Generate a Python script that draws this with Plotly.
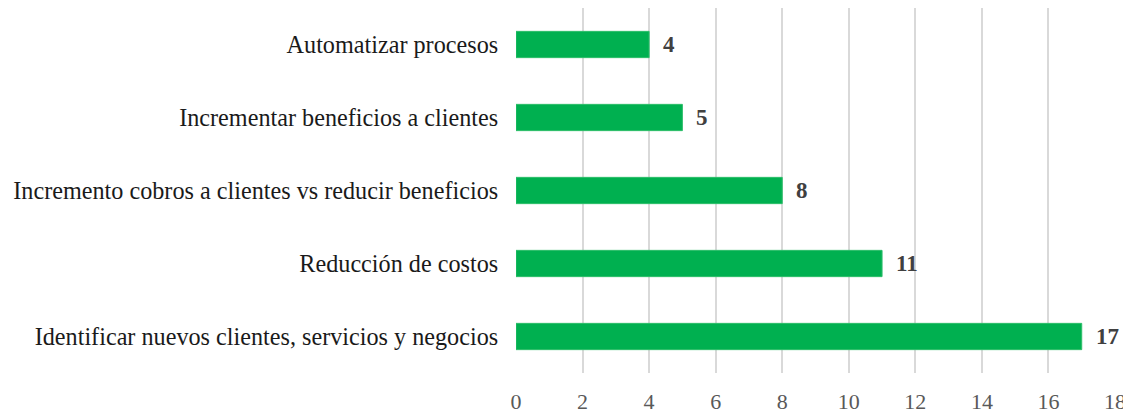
import plotly.graph_objects as go

categories = [
    "Identificar nuevos clientes, servicios y negocios",
    "Reducción de costos",
    "Incremento cobros a clientes vs reducir beneficios",
    "Incrementar beneficios a clientes",
    "Automatizar procesos",
]
values = [17, 11, 8, 5, 4]
tick_vals = [0, 2, 4, 6, 8, 10, 12, 14, 16, 18]

font_family = "Liberation Serif"

fig = go.Figure()
fig.add_trace(go.Bar(
    y=categories,
    x=values,
    orientation="h",
    marker=dict(color="#00B050", line=dict(color="#2DBE6A", width=1)),
    hoverinfo="skip",
))

for c, v in zip(categories, values):
    fig.add_annotation(
        x=v, y=c, text=f"<b>{v}</b>", showarrow=False,
        xanchor="left", xshift=12,
        font=dict(family=font_family, size=23, color="#404040"),
    )

# page body has an 8px default margin, so the figure is sized to the remaining area
fig.update_layout(
    width=1123, height=407,
    margin=dict(l=508, r=16, t=0, b=42),
    paper_bgcolor="white", plot_bgcolor="white",
    bargap=0.64,
    showlegend=False,
    font=dict(family=font_family, size=24, color="#262626"),
)
fig.update_xaxes(
    range=[0, 18], tickvals=tick_vals, automargin=False,
    showgrid=True, gridcolor="#D9D9D9", gridwidth=2,
    zeroline=False, showline=False,
    ticks="outside", ticklen=9, tickcolor="rgba(0,0,0,0)",
    tickfont=dict(family=font_family, size=22, color="#595959"),
)
fig.update_yaxes(
    categoryorder="array", categoryarray=categories, automargin=False,
    range=[-0.5, 4.5],
    showgrid=False, zeroline=False, showline=False,
    ticks="outside", ticklen=12, tickcolor="rgba(0,0,0,0)",
    tickfont=dict(family=font_family, size=24.2, color="#1a1a1a"),
)

fig.write_html("out.html")
